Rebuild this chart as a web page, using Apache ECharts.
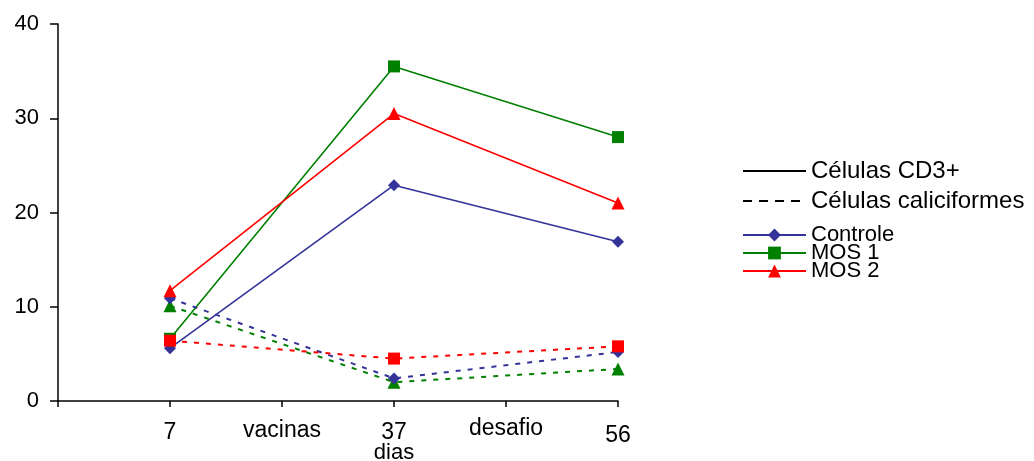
<!DOCTYPE html>
<html><head><meta charset="utf-8">
<script src="https://cdn.jsdelivr.net/npm/echarts@6/dist/echarts.min.js"></script>
<style>html,body{margin:0;padding:0;background:#fff}#c{width:1034px;height:461px}</style>
</head><body><div id="c"></div>
<script>
const xCategories = ['', '7', 'vacinas', '37', 'desafio', '56'];
const days = ['7', '37', '56'];
const yTicks = [0, 10, 20, 30, 40];
// Células CD3+ (solid)
const cd3Controle = [5.6, 22.9, 16.9];
const cd3Mos1 = [6.6, 35.5, 28.0];
const cd3Mos2 = [11.7, 30.5, 21.0];
// Células caliciformes (dashed)
const calControle = [10.9, 2.4, 5.2];
const calMos1 = [10.1, 2.0, 3.4];
const calMos2 = [6.4, 4.5, 5.8];

const colors = {Controle: '#333399', 'MOS 1': '#008000', 'MOS 2': '#ff0000'};
const pairs = vals => days.map((d, i) => [d, vals[i]]);
const labelPad = {'7': 4, 'vacinas': 2, '37': 4, 'desafio': 0, '56': 7};
const FONT = 'Liberation Sans';

function mk(name, vals, dashed, symbol, size, z) {
  return {
    name: name, type: 'line', data: pairs(vals), z: z,
    symbol: symbol, symbolSize: size,
    itemStyle: {color: colors[name]},
    lineStyle: {color: colors[name], width: dashed ? 2 : 1.6, type: dashed ? [5, 7] : 'solid'},
    emphasis: {disabled: true}, animation: false
  };
}

const chart = echarts.init(document.getElementById('c'));
chart.setOption({
  animation: false,
  grid: {left: 58, right: 416, top: 24, bottom: 60, containLabel: false, outerBoundsMode: 'none'},
  xAxis: {
    type: 'category', boundaryGap: false,
    data: xCategories.map(c => ({value: c, textStyle: {padding: [labelPad[c] || 0, 0, 0, 0]}})),
    axisLine: {lineStyle: {color: '#000', width: 1.5}},
    axisTick: {show: true, length: 6, inside: false, lineStyle: {color: '#000', width: 1.5}, alignWithLabel: true},
    axisLabel: {color: '#000', fontSize: 23, fontFamily: FONT, margin: 16, interval: 0},
    name: 'dias', nameLocation: 'middle', nameGap: 41, nameMoveOverlap: false,
    nameTextStyle: {color: '#000', fontSize: 22, fontFamily: FONT, verticalAlign: 'top', padding: [0, 0, 0, 112]},
    splitLine: {show: false}
  },
  yAxis: {
    type: 'value', min: yTicks[0], max: yTicks[yTicks.length - 1], interval: 10,
    axisLine: {show: true, lineStyle: {color: '#000', width: 1.5}},
    axisTick: {show: true, length: 8, lineStyle: {color: '#000', width: 1.5}},
    axisLabel: {color: '#000', fontSize: 22, fontFamily: FONT, margin: 19},
    splitLine: {show: false}
  },
  legend: [
    {
      data: [
        {name: 'Células CD3+', itemStyle: {opacity: 0}},
        {name: 'Células caliciformes', itemStyle: {opacity: 0}}
      ],
      orient: 'vertical',
      left: 737, top: 154, itemWidth: 63, itemHeight: 14, itemGap: 6,
      textStyle: {color: '#000', fontSize: 24, lineHeight: 24, fontFamily: FONT, padding: [0, 0, 0, 0]},
      selectedMode: false
    },
    {
      data: ['Controle', 'MOS 1', 'MOS 2'], orient: 'vertical',
      left: 737, top: 219, itemWidth: 63, itemHeight: 16, itemGap: -4,
      textStyle: {color: '#000', fontSize: 22, lineHeight: 18, fontFamily: FONT, padding: [0, 0, 0, 0]},
      selectedMode: false
    }
  ],
  series: [
    {name: 'Células CD3+', type: 'line', data: [], symbol: 'none', itemStyle: {color: '#000'}, lineStyle: {color: '#000', width: 2.5, type: 'solid'}},
    {name: 'Células caliciformes', type: 'line', data: [], symbol: 'none', itemStyle: {color: '#000'}, lineStyle: {color: '#000', width: 2.5, type: [9, 7]}},
    mk('Controle', cd3Controle, false, 'diamond', 12, 2),
    mk('MOS 1', cd3Mos1, false, 'rect', 12, 3),
    mk('MOS 2', cd3Mos2, false, 'triangle', 13, 8),
    mk('MOS 1', calMos1, true, 'triangle', 13, 4),
    mk('Controle', calControle, true, 'diamond', 12, 5),
    mk('MOS 2', calMos2, true, 'rect', 12, 6)
  ]
});
</script></body></html>
